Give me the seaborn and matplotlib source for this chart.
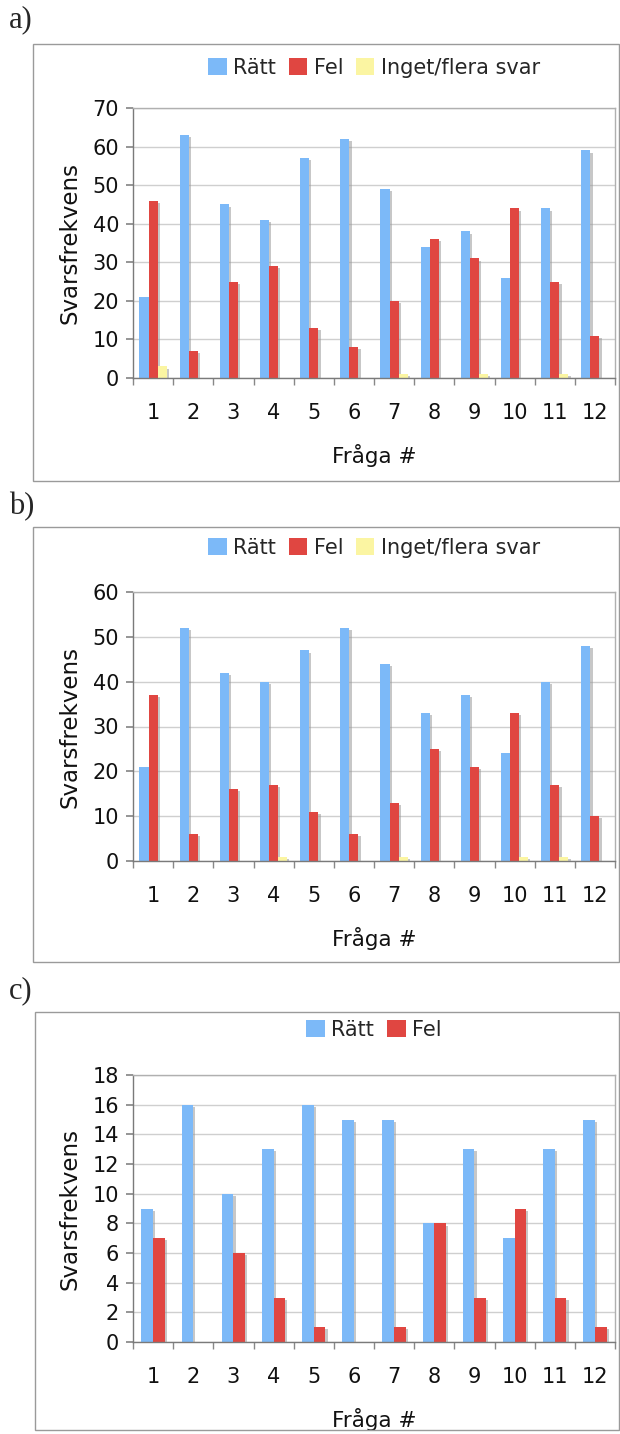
import numpy as np
import pandas as pd
import matplotlib
matplotlib.use("Agg")
import matplotlib.pyplot as plt
import matplotlib.patheffects as pe
from matplotlib.patches import Rectangle, Patch
import seaborn as sns

questions = [str(i) for i in range(1, 13)]

a_ratt = [21, 63, 45, 41, 57, 62, 49, 34, 38, 26, 44, 59]
a_fel = [46, 7, 25, 29, 13, 8, 20, 36, 31, 44, 25, 11]
a_inget = [3, 0, 0, 0, 0, 0, 1, 0, 1, 0, 1, 0]

b_ratt = [21, 52, 42, 40, 47, 52, 44, 33, 37, 24, 40, 48]
b_fel = [37, 6, 16, 17, 11, 6, 13, 25, 21, 33, 17, 10]
b_inget = [0, 0, 0, 1, 0, 0, 1, 0, 0, 1, 1, 0]

c_ratt = [9, 16, 10, 13, 16, 15, 15, 8, 13, 7, 13, 15]
c_fel = [7, 0, 6, 3, 1, 0, 1, 8, 3, 9, 3, 1]

series_names = ["Rätt", "Fel", "Inget/flera svar"]
colors = {"Rätt": "#7cb9f8", "Fel": "#e04641", "Inget/flera svar": "#fbf5a2"}

sns.set_theme(style="white")
plt.rcParams['font.family'] = ['DejaVu Sans']

W, H = 620, 1434
fig = plt.figure(figsize=(W / 100, H / 100), dpi=100)


def fx(x):
    return x / W


def fy(y):
    return 1 - y / H


def panel(label, label_y, box, ax_top, ax_bot, series, yticks, width, leg_y):
    x0, y0, x1, y1 = box
    fig.patches.append(Rectangle((fx(x0), fy(y1)), fx(x1 - x0), fy(y0) - fy(y1),
                                 transform=fig.transFigure, fill=False,
                                 edgecolor="#9a9a9a", linewidth=1.0))
    fig.text(fx(9), fy(label_y), label, family="Liberation Serif", fontsize=22,
             va="center", ha="left")
    ax = fig.add_axes([fx(133), fy(ax_bot), fx(615 - 133), fy(ax_top) - fy(ax_bot)])
    rows = []
    for name, vals in series:
        for q, v in zip(questions, vals):
            rows.append({"Fråga": q, "Svarsfrekvens": v, "Serie": name})
    df = pd.DataFrame(rows)
    names = [n for n, _ in series]
    sns.barplot(data=df, x="Fråga", y="Svarsfrekvens", hue="Serie", hue_order=names,
                palette=[colors[n] for n in names], width=width, ax=ax,
                saturation=1, linewidth=0, legend=True)
    handles, labels = ax.get_legend_handles_labels()
    ax.get_legend().remove()
    for p in ax.patches:
        p.set_path_effects([pe.SimplePatchShadow(offset=(1.6, -1.6), shadow_rgbFace="#9a9a9a", alpha=0.55),
                            pe.Normal()])
    ax.set_xlim(-0.5, 11.5)
    ax.set_ylim(yticks[0], yticks[-1])
    ax.set_yticks(yticks)
    ax.yaxis.grid(True, color="#cfcfcf", linewidth=1.0)
    ax.set_axisbelow(True)
    ax.set_xticks(np.arange(-0.5, 12, 1), minor=True)
    ax.tick_params(axis="x", which="major", length=0, labelsize=15, pad=18, labelcolor="#111111")
    ax.tick_params(axis="x", which="minor", length=5, color="#888888", width=1, bottom=True)
    ax.tick_params(axis="y", which="major", length=5, color="#888888", labelsize=15, pad=5,
                   left=True, labelcolor="#111111")
    ax.set_xlabel("Fråga #", fontsize=15.5, labelpad=15, color="#111111")
    ax.set_ylabel("Svarsfrekvens", fontsize=16.5, labelpad=8, color="#111111")
    for s in ["left", "bottom"]:
        ax.spines[s].set_color("#7a7a7a")
        ax.spines[s].set_linewidth(1.0)
    for s in ["top", "right"]:
        ax.spines[s].set_color("#b0b0b0")
        ax.spines[s].set_linewidth(1.0)
    leg_handles = [Patch(facecolor=colors[n], edgecolor="none") for n in labels]
    fig.legend(leg_handles, labels, loc="center", bbox_to_anchor=(fx(374), fy(leg_y)),
               ncol=len(labels), frameon=False, fontsize=15, handlelength=0.9,
               handleheight=0.9, handletextpad=0.3, columnspacing=0.6)
    return ax


panel("a)", 20, (33, 44, 619, 481), 108, 378,
      [("Rätt", a_ratt), ("Fel", a_fel), ("Inget/flera svar", a_inget)],
      np.arange(0, 71, 10), 0.68, 68)
panel("b)", 507, (33, 527, 619, 962), 592, 861,
      [("Rätt", b_ratt), ("Fel", b_fel), ("Inget/flera svar", b_inget)],
      np.arange(0, 61, 10), 0.68, 548)
panel("c)", 991, (35, 1012, 619, 1430), 1075, 1342,
      [("Rätt", c_ratt), ("Fel", c_fel)],
      np.arange(0, 19, 2), 0.58, 1030)

fig.savefig("out.png", dpi=100, facecolor="white")
